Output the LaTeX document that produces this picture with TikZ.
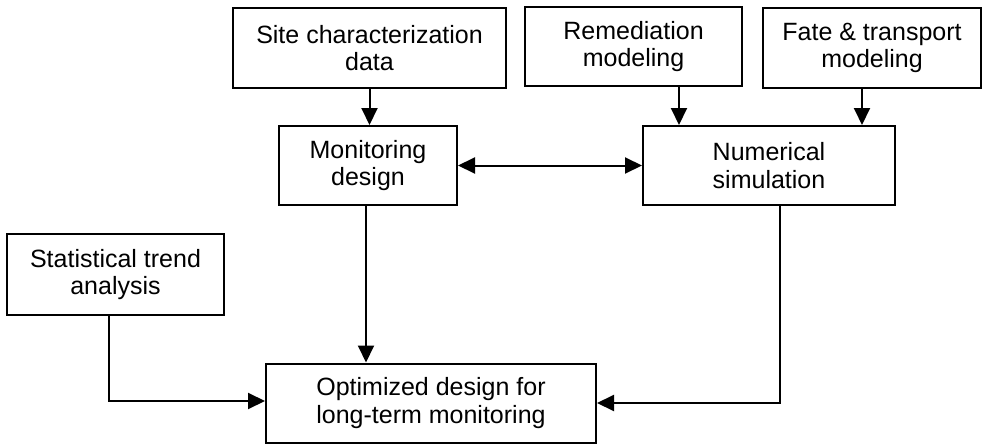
\documentclass[tikz,border=0pt]{standalone}
\usepackage{fontspec}
\setmainfont{Liberation Sans}
\usetikzlibrary{arrows.meta}
\begin{document}
\begin{tikzpicture}[x=1pt,y=-1pt,
  box/.style={draw,line width=2pt,rectangle,align=center,inner sep=0pt,
    font=\fontsize{25}{27.5}\selectfont},
  conn/.style={line width=2pt,-{Triangle[length=17pt,width=16pt]}},
  conn2/.style={line width=2pt,{Triangle[length=17pt,width=16pt]}-{Triangle[length=17pt,width=16pt]}}]
\useasboundingbox (0,0) rectangle (983,444);
\node[box,minimum width=273pt,minimum height=80pt] (site) at (369.5,48) {Site characterization\\data};
\node[box,minimum width=217pt,minimum height=79pt] (remed) at (633.5,46.5) {Remediation\\modeling};
\node[box,minimum width=218pt,minimum height=80pt] (fate) at (872,48) {Fate \& transport\\modeling};
\node[box,minimum width=178pt,minimum height=79pt] (mon) at (368,165.5) {Monitoring\\design};
\node[box,minimum width=252pt,minimum height=79pt] (num) at (769,165.5) {Numerical\\simulation};
\node[box,minimum width=217pt,minimum height=81pt] (stat) at (115.5,274.5) {Statistical trend\\analysis};
\node[box,minimum width=330pt,minimum height=79pt] (opt) at (431,403) {Optimized design for\\long-term monitoring};
\coordinate (ra) at (679,0);
\coordinate (fa) at (862,0);
\coordinate (sa) at (109,0);
\coordinate (na) at (780,0);
\coordinate (ma) at (366,0);
\draw[conn] (site.south) -- (site.south |- mon.north);
\draw[conn2] (mon.east) -- (num.west);
\draw[conn] (ra |- remed.south) -- (ra |- num.north);
\draw[conn] (fa |- fate.south) -- (fa |- num.north);
\draw[conn] (ma |- mon.south) -- (ma |- opt.north);
\draw[conn] (sa |- stat.south) |- ([yshift=2pt]opt.west);
\draw[conn] (na |- num.south) |- (opt.east);
\end{tikzpicture}
\end{document}
